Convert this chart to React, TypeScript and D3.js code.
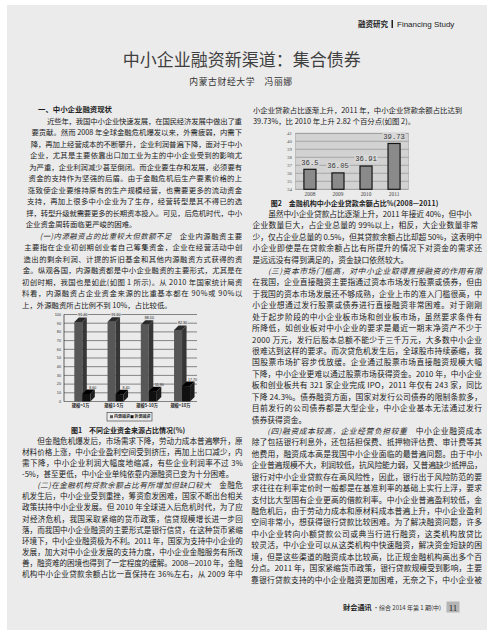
import * as d3 from "d3";
import React from "react";

const W = 504;
const H = 640;

// figure 1: share of funding sources by enterprise size (%)
const sizeCats = ["规模<1万", "规模1-5万", "规模5-10万", "规模>10万"];
const internalShare = [91.4, 91.6, 88.1, 82.3];
const externalShare = [8.6, 8.4, 11.9, 17.7];
const fundLegend = ["内源融资", "外源融资"];

// figure 2: SME loan balance share of financial institutions (%)
const loanYears = ["2008", "2009", "2010", "2011"];
const loanShare = [36.5, 36.05, 36.91, 39.73];

type Para = {
  lines: string[];
  lead?: string;
  heading?: boolean;
  cont?: boolean;
  open?: boolean;
};

const leftTop: Para[] = [
  { heading: true, lines: ["一、中小企业融资现状"] },
  {
    lines: [
      "近些年，我国中小企业快速发展，在国民经济发展中做出了重",
      "要贡献。然而 2008 年全球金融危机爆发以来，外需疲弱，内需下",
      "降，再加上经营成本的不断攀升，企业利润普遍下降，面对于中小",
      "企业，尤其是主要依靠出口加工业为主的中小企业受到的影响尤",
      "为严重，企业利润减少甚至倒闭。而企业要生存和发展，必须要有",
      "资金的支持作为坚强的后盾。由于金融危机后生产要素价格的上",
      "涨致使企业要维持原有的生产规模经营，也需要更多的流动资金",
      "支持，再加上很多中小企业为了生存，经营转型是其不得已的选",
      "择，转型升级就需要更多的长期资本投入。可见，后危机时代，中小",
      "企业资金周转面临更严峻的困难。",
    ],
  },
  {
    lead: "(一)内源融资占的比重较大但数额不足",
    lines: [
      "　企业内源融资主要",
      "主要指在企业初创期创业者自己筹集资金，企业在经营活动中创",
      "造出的剩余利润、计提的折旧基金和其他内源融资方式获得的资",
      "金。纵观各国，内源融资都是中小企业融资的主要形式，尤其是在",
      "初创时期，我国也是如此(如图 1 所示)。从 2010 年国家统计局资",
      "料看，内源融资占企业资金来源的比重基本都在 90%或 90%以",
      "上，外源融资所占比例不到 10%，占比较低。",
    ],
  },
];

const leftBottom: Para[] = [
  {
    lines: [
      "但金融危机爆发后，市场需求下降，劳动力成本普遍攀升，原",
      "材料价格上涨，中小企业盈利空间受到挤压，再加上出口减少，内",
      "需下降，中小企业利润大幅度地缩减，有些企业利润率不过 3%",
      "-5%，甚至更低，中小企业单纯依靠内源融资已变为十分困难。",
    ],
  },
  {
    lead: "(二)在金融机构贷款余额占比有所增加但缺口较大",
    open: true,
    lines: [
      "　金融危",
      "机发生后，中小企业受到重挫，筹资愈发困难，国家不断出台相关",
      "政策扶持中小企业发展。但 2010 年全球进入后危机时代，为了应",
      "对经济危机，我国采取紧缩的货币政策，信贷规模增长进一步回",
      "落，而我国中小企业融资的主要形式是银行信贷，在这种货币紧缩",
      "环境下，中小企业融资极为不利。2011 年，国家为支持中小企业的",
      "发展，加大对中小企业发展的支持力度，中小企业金融服务有所改",
      "善，融资难的困境也得到了一定程度的缓解。2008—2010 年，金融",
      "机构中小企业贷款余额占比一直保持在 36%左右，从 2009 年中",
    ],
  },
];

const rightTop: Para[] = [
  {
    cont: true,
    lines: [
      "小企业贷款占比逐渐上升，2011 年，中小企业贷款余额占比达到",
      "39.73%，比 2010 年上升 2.82 个百分点(如图 2)。",
    ],
  },
];

const rightBottom: Para[] = [
  {
    lines: [
      "虽然中小企业贷款占比逐渐上升，2011 年接近 40%，但中小",
      "企业数量巨大，占企业总量的 99%以上，相反，大企业数量非常",
      "少，仅占企业总量的 0.5%，但其贷款余额占比却超 50%，这表明中",
      "小企业即使是在贷款余额占比有所提升的情况下对资金的需求还",
      "是远远没有得到满足的，资金缺口依然较大。",
    ],
  },
  {
    lead: "(三)资本市场门槛高，对中小企业取得直接融资的作用有限",
    lines: [
      "",
      "在我国，企业直接融资主要指通过资本市场发行股票或债券，但由",
      "于我国的资本市场发展还不够成熟，企业上市的准入门槛很高，中",
      "小企业想通过发行股票或债券进行直接融资非常困难。对于刚刚",
      "处于起步阶段的中小企业板市场和创业板市场，虽然要求条件有",
      "所降低，如创业板对中小企业的要求是最近一期末净资产不少于",
      "2000 万元，发行后股本总额不能少于三千万元，大多数中小企业",
      "很难达到这样的要求。而次贷危机发生后，全球股市持续萎缩，我",
      "国股票市场扩容步伐放缓。企业通过股票市场直接融资规模大幅",
      "下降，中小企业更难以通过股票市场获得资金。2010 年，中小企业",
      "板和创业板共有 321 家企业完成 IPO，2011 年仅有 243 家，同比",
      "下降 24.3%。债券融资方面，国家对发行公司债券的限制条款多，",
      "目前发行的公司债券都是大型企业，中小企业基本无法通过发行",
      "债券获得资金。",
    ],
  },
  {
    lead: "(四)融资成本较高，企业经营负担较重",
    open: true,
    lines: [
      "　中小企业融资成本",
      "除了包括银行利息外，还包括担保费、抵押物评估费、审计费等其",
      "他费用，融资成本高是我国中小企业面临的最普遍问题。由于中小",
      "企业普遍规模不大，利润较低，抗风险能力弱，又普遍缺少抵押品，",
      "银行对中小企业贷款存在高风险性，因此，银行出于风险防范的要",
      "求往往在利率定价时一般都是在基准利率的基础上实行上浮，要求",
      "支付比大型国有企业更高的借款利率。中小企业普遍盈利较低，金",
      "融危机后，由于劳动力成本和原材料成本普遍上升，中小企业盈利",
      "空间非常小，想获得银行贷款比较困难。为了解决融资问题，许多",
      "中小企业转向小额贷款公司或典当行进行融资，这类机构放贷比",
      "较灵活，中小企业可以从这类机构中快速融资，解决资金短缺的困",
      "境，但是这些渠道的融资成本比较高，比正规金融机构高出多个百",
      "分点。2011 年，国家紧缩货币政策，银行贷款规模受到影响，主要",
      "靠银行贷款支持的中小企业融资更加困难，无奈之下，中小企业被",
    ],
  },
];

const CJK = "'Noto Sans CJK SC', 'Noto Sans', sans-serif";

// the scan is slightly skewed, so column edges drift with y
const leftColL = d3.scaleLinear().domain([110, 285]).range([33, 22]).clamp(true);
const leftColR = d3.scaleLinear().domain([110, 600]).range([242, 243]).clamp(true);
const rightColL = d3.scaleLinear().domain([110, 600]).range([253, 251]).clamp(true);
const rightColR = d3.scaleLinear().domain([110, 214, 235]).range([462, 470, 482]).clamp(true);

function Column({
  paras,
  y0,
  step,
  left,
  right,
  fs,
}: {
  paras: Para[];
  y0: number;
  step: number;
  left: (y: number) => number;
  right: (y: number) => number;
  fs: number;
}) {
  const rows: React.ReactElement[] = [];
  let i = 0;
  paras.forEach((p, pi) =>
    p.lines.forEach((ln, li) => {
      const y = y0 + i * step;
      i++;
      const first = li === 0;
      const last = li === p.lines.length - 1;
      const xl =
        left(y) + (p.heading ? fs * 0.7 : first && !p.cont ? fs * 2 : 0);
      const justify = !p.heading && (!last || p.open);
      rows.push(
        <text
          key={`${pi}-${li}`}
          x={xl}
          y={y}
          fontSize={fs}
          fontWeight={p.heading ? 700 : 400}
          textLength={justify ? right(y) - xl : undefined}
          lengthAdjust="spacing"
        >
          {first && p.lead ? (
            <tspan fontStyle="italic" fill="#2e2e2e">
              {p.lead}
            </tspan>
          ) : null}
          {ln}
        </text>
      );
    })
  );
  return (
    <g fontFamily={CJK} fill="#1b1b1b">
      {rows}
    </g>
  );
}

function FundingChart() {
  const x = d3.scaleBand().domain(sizeCats).range([64, 197]);
  const y = d3.scaleLinear().domain([0, 100]).range([401.5, 314.5]);
  const bw = 8;
  const d = 4.5;

  const bar3d = (x0: number, v: number, front: string, top: string, side: string, key: string) => {
    const yt = y(v);
    const yb = y(0);
    return (
      <g key={key}>
        <rect x={x0} y={yt} width={bw} height={yb - yt} fill={front} />
        <path
          d={`M${x0},${yt}L${x0 + d},${yt - d}L${x0 + bw + d},${yt - d}L${x0 + bw},${yt}Z`}
          fill={top}
        />
        <path
          d={`M${x0 + bw},${yt}L${x0 + bw + d},${yt - d}L${x0 + bw + d},${yb - d}L${x0 + bw},${yb}Z`}
          fill={side}
        />
      </g>
    );
  };

  return (
    <g>
      {y.ticks(10).map((t) => (
        <g key={t}>
          <line x1={64} x2={197} y1={y(t)} y2={y(t)} stroke="#3c3c3c" strokeWidth={0.6} />
          <text x={61} y={y(t) + 1.3} fontSize={3.8} textAnchor="end" fill="#333" fontFamily="Liberation Sans">
            {t}
          </text>
        </g>
      ))}
      <line x1={64} x2={64} y1={y(100)} y2={y(0)} stroke="#222" strokeWidth={0.7} />
      {sizeCats.map((c, i) => {
        const gx = (x(c) as number) + 10.3;
        return (
          <g key={c}>
            {bar3d(gx, internalShare[i], "#575757", "#2a2a2a", "#363636", "in")}
            {bar3d(gx + bw, externalShare[i], "#101010", "#000", "#1c1c1c", "ex")}
            <rect x={gx + d + bw / 2 - 5.5} y={y(internalShare[i]) - d - 5} width={11} height={4.6} fill="#e2e2e2" opacity={0.85} />
            <text x={gx + d + bw / 2} y={y(internalShare[i]) - d - 1.3} fontSize={3.6} textAnchor="middle" fill="#222" fontFamily="Liberation Sans">
              {internalShare[i].toFixed(2)}
            </text>
            <text x={gx + bw + d + bw / 2 + 2} y={y(externalShare[i]) - d - 1} fontSize={3.6} textAnchor="middle" fill="#222" fontFamily="Liberation Sans">
              {externalShare[i].toFixed(2)}
            </text>
            <text x={(x(c) as number) + x.bandwidth() / 2} y={407} fontSize={4.2} fontWeight={700} textAnchor="middle" fill="#222" fontFamily={CJK}>
              {c}
            </text>
          </g>
        );
      })}
      <rect x={107} y={412.5} width={45} height={8.5} fill="none" stroke="#333" strokeWidth={0.6} />
      {fundLegend.map((l, i) => (
        <g key={l}>
          <rect x={110 + i * 20.5} y={415.2} width={3} height={3} fill={i === 0 ? "#575757" : "#101010"} />
          <text x={114 + i * 20.5} y={418.3} fontSize={4} fontWeight={700} fill="#222" fontFamily={CJK}>
            {l}
          </text>
        </g>
      ))}
      <text x={128} y={433} fontSize={7} fontWeight={700} textAnchor="middle" fill="#222" fontFamily={CJK}>
        图1　不同企业资金来源占比情况(%)
      </text>
    </g>
  );
}

function LoanChart() {
  const x = d3.scaleBand().domain(loanYears).range([295.5, 408.5]).paddingInner(0.57).paddingOuter(0.3);
  const y = d3.scaleLinear().domain([34, 41]).range([189.3, 133.3]);
  return (
    <g>
      <rect x={295.5} y={y(41)} width={113} height={y(34) - y(41)} fill="#d2d2d2" stroke="#9a9a9a" strokeWidth={0.5} />
      {y.ticks(7).map((t) => (
        <g key={t}>
          <line x1={295.5} x2={408.5} y1={y(t)} y2={y(t)} stroke="#8a8a8a" strokeWidth={0.6} />
          <text x={292} y={y(t) + 1.7} fontSize={5} textAnchor="end" fill="#555" fontFamily="Liberation Serif">
            {t}
          </text>
        </g>
      ))}
      {loanYears.map((yr, i) => {
        const bx = x(yr) as number;
        const cx = bx + x.bandwidth() / 2;
        const yt = y(loanShare[i]);
        const label = String(loanShare[i]);
        const lw = label.length * 4.4;
        return (
          <g key={yr}>
            <rect x={bx} y={yt} width={x.bandwidth()} height={y(34) - yt} fill="#8a8a8a" stroke="#151515" strokeWidth={1.2} />
            <rect x={cx - lw / 2 - 0.5} y={yt - 11} width={lw + 1} height={7.5} fill="#d8d8d8" />
            <text x={cx} y={yt - 4.6} fontSize={7.2} textAnchor="middle" fill="#3a3a3a" fontFamily="'Liberation Mono', monospace">
              {label}
            </text>
            <text x={cx} y={196} fontSize={5.4} textAnchor="middle" fill="#444" fontFamily="Liberation Serif">
              {yr}
            </text>
          </g>
        );
      })}
      <text x={354.5} y={205.5} fontSize={7} fontWeight={700} textAnchor="middle" fill="#222" fontFamily={CJK}>
        图2　金融机构中小企业贷款余额占比%(2008—2011)
      </text>
    </g>
  );
}

export default function App() {
  return (
    <div style={{ position: "absolute", left: 0, top: 0, width: W, height: H }}>
      <svg width={W} height={H} style={{ display: "block" }}>
        <rect width={W} height={H} fill="#ffffff" />
        <rect x={7} y={5} width={480} height={625} fill="#ebebeb" />

        {/* running head */}
        <text x={388} y={27} fontSize={7.5} fontWeight={700} textAnchor="end" fill="#222" fontFamily={CJK}>
          融资研究
        </text>
        <rect x={391.5} y={20} width={1.5} height={8} fill="#222" />
        <text x={397} y={27} fontSize={8} fill="#222" fontFamily="'Liberation Sans', Arial, sans-serif">
          Financing Study
        </text>

        {/* title block */}
        <text x={241.7} y={66} fontSize={17} textAnchor="middle" fill="#404040" fontFamily={CJK}>
          中小企业融资新渠道：集合债券
        </text>
        <text x={241} y={84.5} fontSize={8.8} textAnchor="middle" fill="#333" fontFamily={CJK} letterSpacing={0.6}>
          内蒙古财经大学　冯丽娜
        </text>

        <Column paras={leftTop} y0={112.2} step={11.5} left={leftColL} right={leftColR} fs={7.4} />
        <FundingChart />
        <Column paras={leftBottom} y0={443.8} step={11.1} left={leftColL} right={leftColR} fs={7.6} />

        <Column paras={rightTop} y0={112.8} step={10.7} left={rightColL} right={rightColR} fs={7.4} />
        <LoanChart />
        <Column paras={rightBottom} y0={216.8} step={11.43} left={rightColL} right={rightColR} fs={7.8} />

        {/* footer */}
        <text x={343} y={609.5} fontSize={7.2} fontWeight={700} fill="#222" fontFamily={CJK}>
          财会通讯
        </text>
        <text x={373} y={609.5} fontSize={6} fill="#333" fontFamily={CJK}>
          ·综合 2014 年第 1 期(中)
        </text>
        <rect x={446.5} y={601.5} width={13} height={11} fill="#b5b5b5" />
        <text x={453} y={610.5} fontSize={9} textAnchor="middle" fill="#222" fontFamily="Liberation Serif">
          11
        </text>
      </svg>
    </div>
  );
}
